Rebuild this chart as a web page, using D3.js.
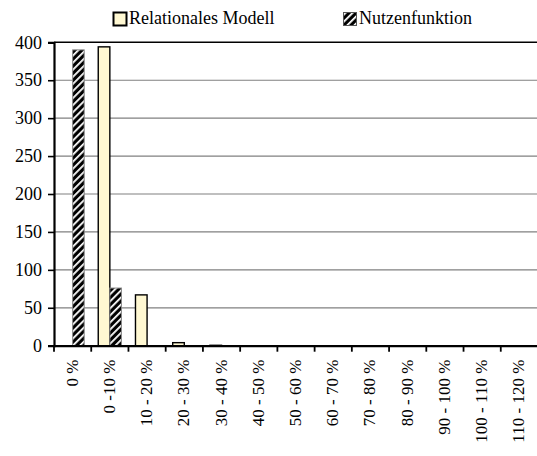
<!DOCTYPE html>
<html>
<head>
<meta charset="utf-8">
<script src="https://cdn.jsdelivr.net/npm/d3@7/dist/d3.min.js"></script>
<style>
  html, body { margin: 0; padding: 0; background: #fff; }
  svg { display: block; }
</style>
</head>
<body>
<svg id="chart" width="537" height="456"></svg>
<script>
const FONT = "Liberation Serif";

// Error-range buckets
const categories = ["0 %", "0 -10 %", "10 - 20 %", "20 - 30 %", "30 - 40 %", "40 - 50 %",
  "50 - 60 %", "60 - 70 %", "70 - 80 %", "80 - 90 %", "90 - 100 %", "100 - 110 %", "110 - 120 %"];
// Counts per bucket for each approach
const relationalValues = [0, 394, 67, 4, 1, 0, 0, 0, 0, 0, 0, 0, 0];
const utilityValues    = [390, 76, 0, 0, 0, 0, 0, 0, 0, 0, 0, 0, 0];
const seriesNames = ["Relationales Modell", "Nutzenfunktion"];
const yTicks = [0, 50, 100, 150, 200, 250, 300, 350, 400];

const svg = d3.select("#chart").attr("font-family", FONT);
const margin = { left: 54, top: 42.3, right: 538, bottom: 345.7 };

const x = d3.scaleBand().domain(categories).range([margin.left, margin.right]).paddingInner(0).paddingOuter(0);
const y = d3.scaleLinear().domain([0, 400]).range([margin.bottom, margin.top]);

// Diagonal hatch for the utility-function series
const defs = svg.append("defs");
const pat = defs.append("pattern")
  .attr("id", "hatch").attr("patternUnits", "userSpaceOnUse")
  .attr("width", 5).attr("height", 5)
  .attr("patternTransform", "rotate(45)");
pat.append("rect").attr("width", 5).attr("height", 5).attr("fill", "#000");
pat.append("rect").attr("x", 0).attr("width", 1.8).attr("height", 5).attr("fill", "#fff");

// Horizontal gridlines
svg.append("g").selectAll("line").data(yTicks.filter(d => d > 0 && d < 400)).join("line")
  .attr("x1", margin.left).attr("x2", margin.right)
  .attr("y1", d => y(d)).attr("y2", d => y(d))
  .attr("stroke", "#808080").attr("stroke-width", 1.2);

// Top border of the plot area
svg.append("line")
  .attr("x1", margin.left).attr("x2", margin.right)
  .attr("y1", y(400)).attr("y2", y(400))
  .attr("stroke", "#000").attr("stroke-width", 1.5);

// Bars
const barW = 11.6;
const data = categories.map((c, i) => ({ c, rel: relationalValues[i], util: utilityValues[i] }));
const center = c => x(c) + x.bandwidth() / 2;

svg.append("g").selectAll("rect").data(data.filter(d => d.rel > 0)).join("rect")
  .attr("x", d => center(d.c) - barW)
  .attr("y", d => y(d.rel))
  .attr("width", barW)
  .attr("height", d => y(0) - y(d.rel))
  .attr("fill", "#fff8d2")
  .attr("stroke", d => d.rel > 2 ? "#000" : "#777")
  .attr("stroke-width", 1.4);

svg.append("g").selectAll("rect").data(data.filter(d => d.util > 0)).join("rect")
  .attr("x", d => center(d.c))
  .attr("y", d => y(d.util))
  .attr("width", barW)
  .attr("height", d => y(0) - y(d.util))
  .attr("fill", "url(#hatch)")
  .attr("stroke", "#888")
  .attr("stroke-width", 1);

// Y axis
const yAxis = svg.append("g").attr("transform", `translate(${margin.left},0)`)
  .call(d3.axisLeft(y).tickValues(yTicks).tickSize(6).tickPadding(6));
yAxis.attr("font-family", FONT).attr("font-size", 18);
yAxis.select(".domain").attr("stroke", "#000").attr("stroke-width", 2.2);
yAxis.selectAll(".tick line").attr("stroke", "#000").attr("stroke-width", 1.6);
yAxis.selectAll(".tick text").attr("fill", "#000");

// X axis
const xAxis = svg.append("g").attr("transform", `translate(0,${margin.bottom})`)
  .call(d3.axisBottom(x).tickSize(0).tickFormat(""));
xAxis.select(".domain").attr("stroke", "#000").attr("stroke-width", 2.2);

// Category boundary ticks
svg.append("g").selectAll("line").data(categories.map(c => x(c)).concat([margin.right])).join("line")
  .attr("x1", d => d).attr("x2", d => d)
  .attr("y1", margin.bottom).attr("y2", margin.bottom + 6)
  .attr("stroke", "#000").attr("stroke-width", 1.8);

// Rotated category labels
svg.append("g").selectAll("text").data(categories).join("text")
  .attr("transform", c => `translate(${center(c) + 5},${margin.bottom + 14}) rotate(-90)`)
  .attr("text-anchor", "end")
  .attr("font-family", FONT)
  .attr("font-size", 17)
  .attr("fill", "#000")
  .text(c => c);

// Legend
const legend = [
  { name: seriesNames[0], x: 113, fill: "#fff8d2", stroke: "#000", sw: 2 },
  { name: seriesNames[1], x: 343, fill: "url(#hatch)", stroke: "#555", sw: 1 }
];
const lg = svg.append("g").selectAll("g").data(legend).join("g")
  .attr("transform", d => `translate(${d.x},0)`);
lg.append("rect").attr("x", 0.5).attr("y", 12.5).attr("width", 13).attr("height", 13)
  .attr("fill", d => d.fill).attr("stroke", d => d.stroke).attr("stroke-width", d => d.sw);
lg.append("text").attr("x", 16).attr("y", 24).attr("font-family", FONT)
  .attr("font-size", 18).attr("fill", "#000")
  .text(d => d.name);
</script>
</body>
</html>
